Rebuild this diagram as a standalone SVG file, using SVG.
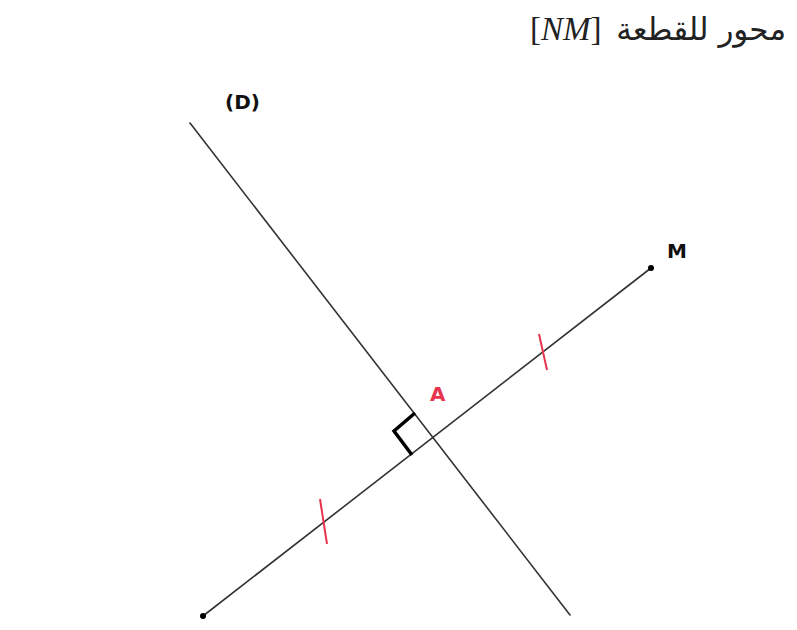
<svg xmlns="http://www.w3.org/2000/svg" width="797" height="630" viewBox="0 0 797 630">
<style>
.ln{stroke:#333;stroke-width:1.6;fill:none;stroke-linecap:round}
.tick{stroke:#e8344f;stroke-width:2;fill:none}
.lbl{font-family:"DejaVu Sans",Verdana,sans-serif;font-weight:bold;font-size:20px}
</style>
<rect width="797" height="630" fill="#fff"/>
<g id="title">
<text x="786" y="40" text-anchor="end" font-family="DejaVu Sans,sans-serif" font-size="31" fill="#222">محور للقطعة</text>
<text x="530" y="40" font-family="Liberation Serif,serif" font-size="33" fill="#222">[<tspan font-style="italic">NM</tspan>]</text>
</g>
<g id="connectors">
<line id="lineD" class="ln" x1="190" y1="123" x2="570" y2="615"/>
<line id="segNM" class="ln" x1="203" y1="616" x2="651" y2="268"/>
<polyline id="rightangle" points="415,413 394,431 412,455" stroke="#000" stroke-width="3.5" fill="none"/>
<line class="tick" x1="539" y1="334" x2="547" y2="370"/>
<line class="tick" x1="320" y1="499" x2="327" y2="544"/>
</g>
<g id="N"><circle cx="203" cy="616" r="3" fill="#000"/></g>
<g id="M"><circle cx="651" cy="268" r="3" fill="#000"/><text class="lbl" x="667" y="258" fill="#111">M</text></g>
<g id="D"><text class="lbl" x="225" y="109" fill="#111">(D)</text></g>
<g id="A"><text class="lbl" x="430" y="401" fill="#e8344f">A</text></g>
</svg>
